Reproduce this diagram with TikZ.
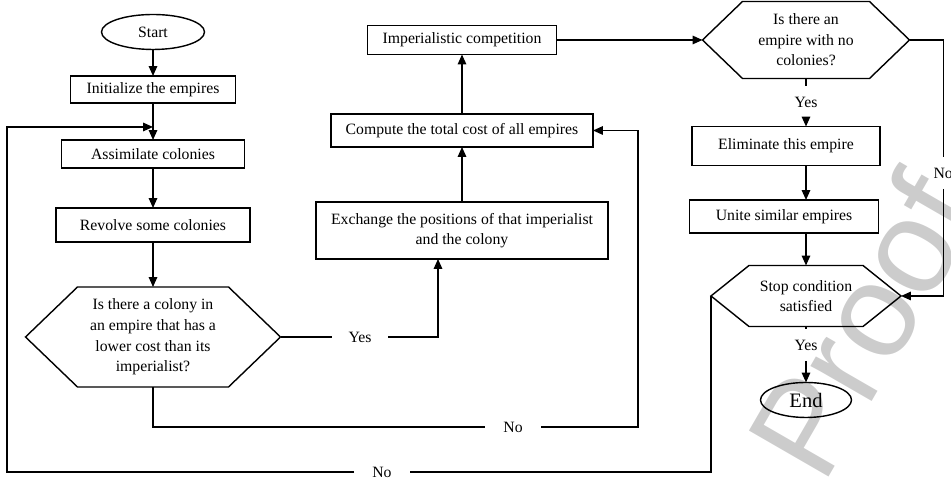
\documentclass[tikz,border=0pt]{standalone}
\usepackage{fontspec}
\setmainfont{Liberation Serif}
\setsansfont{Liberation Sans}
\usetikzlibrary{shapes.geometric,arrows.meta}

\newcommand{\hexframe}[2]{%
    \draw ([xshift=#2]#1.north west) -- ([xshift=-#2]#1.north east) -- (#1.east)
        -- ([xshift=-#2]#1.south east) -- ([xshift=#2]#1.south west) -- (#1.west) -- cycle;}

\begin{document}
\begin{tikzpicture}[line width=1pt,
        font=\fontsize{11.2}{14.6}\selectfont,
        block/.style={draw, inner sep=0pt, outer sep=0pt, align=center},
        term/.style={draw, ellipse, inner sep=0pt, outer sep=0pt},
        decision/.style={inner sep=0pt, outer sep=0pt, align=center},
        lbl/.style={inner sep=0pt, outer sep=0pt, minimum width=1.4cm, minimum height=0.8cm},
        arr/.style={-{Triangle[length=7pt,width=6pt]}}]
        \useasboundingbox (0,0) rectangle (23.775,12.05);

        \node[rotate=60, anchor=base west, inner sep=0pt, text=black!20, font=\sffamily\fontsize{95}{95}\selectfont] (wm) at (20.575, -0.125) {Proof};

        \node[term, minimum width=2.575cm, minimum height=0.875cm] (start) at (3.825, 11.25) {Start};
        \node[block, minimum width=4.125cm, minimum height=0.675cm] (init) at (3.825, 9.8125) {Initialize the empires};
        \node[block, minimum width=4.575cm, minimum height=0.7cm] (assim) at (3.825, 8.2) {Assimilate colonies};
        \node[block, minimum width=4.85cm, minimum height=0.85cm] (revolve) at (3.825, 6.425) {Revolve some colonies};
        \node[decision, minimum width=6.375cm, minimum height=2.5cm] (q1) at (3.825, 3.625) {Is there a colony in\\an empire that has a\\lower cost than its\\imperialist?};
            \hexframe{q1}{1.3cm}
        \coordinate (back) at (3.825, 8.875);

        \node[block, minimum width=4.725cm, minimum height=0.725cm] (imp) at (11.55, 11.05) {Imperialistic competition};
        \node[block, minimum width=6.55cm, minimum height=0.825cm] (cost) at (11.55, 8.7875) {Compute the total cost of all empires};
        \node[block, minimum width=7.3cm, minimum height=1.425cm] (swap) at (11.55, 6.2875) {Exchange the positions of that imperialist\\and the colony};

        \node[decision, minimum width=5.175cm, minimum height=1.925cm] (q2) at (20.15, 11.05) {Is there an\\empire with no\\colonies?};
            \hexframe{q2}{1cm}
        \node[block, minimum width=4.7cm, minimum height=0.975cm] (elim) at (19.65, 8.4) {Eliminate this empire};
        \node[block, minimum width=4.725cm, minimum height=0.825cm] (unite) at (19.6, 6.6375) {Unite similar empires};
        \node[decision, minimum width=4.75cm, minimum height=1.525cm] (q3) at (20.15, 4.65) {Stop condition\\satisfied};
            \hexframe{q3}{0.95cm}
        \node[term, minimum width=2.275cm, minimum height=0.875cm, font=\fontsize{14.6}{17}\selectfont] (end) at (20.15, 2.05) {End};

        \node[lbl] (yes1) at (9.0, 3.625) {Yes};
        \node[lbl] (no1) at (12.825, 1.375) {No};
        \node[lbl] (no2) at (9.55, 0.25) {No};
        \node[lbl] (yes2) at (20.15, 9.5) {Yes};
        \node[lbl] (no3) at (23.58, 7.725) {No};
        \node[lbl] (yes3) at (20.15, 3.425) {Yes};

        \draw[arr] (start) -- (init);
        \draw[arr] (init) -- (assim);
        \draw[arr] (assim) -- (revolve);
        \draw[arr] (revolve) -- (q1);
        \draw (q1.east) -- (yes1);
        \draw[arr] (yes1) -| ([xshift=-0.6cm]swap.south);
        \draw[arr] (swap) -- (cost);
        \draw[arr] (cost) -- (imp);
        \draw[arr] (imp.east) -- (q2.west);
        \draw (q1.south) |- (no1);
        \draw[arr] (no1) -| ([xshift=1.125cm]cost.east) -- (cost.east);

        \draw (q2.south) -- (yes2);
        \draw[arr] (yes2) -- (yes2 |- elim.north);
        \draw[arr] (elim.south -| q3) -- (unite.north -| q3);
        \draw[arr] (unite.south -| q3) -- (q3.north);
        \draw (q2.east) -| (no3);
        \draw[arr] (no3) |- (q3.east);
        \draw (q3.south) -- (yes3);
        \draw[arr] (yes3) -- (end);
        \draw (q3.west) |- (no2);
        \draw[arr] (no2) -| ([xshift=-3.65cm]back) -- (back);
\end{tikzpicture}
\end{document}
